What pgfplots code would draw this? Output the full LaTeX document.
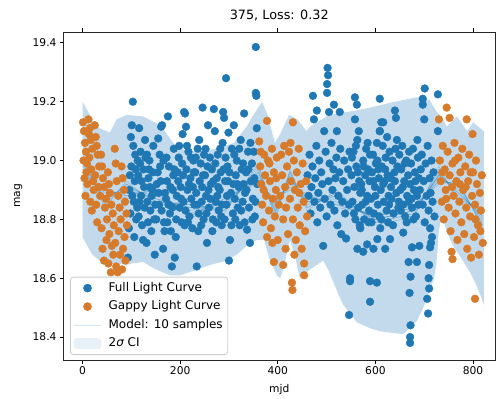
\documentclass[border=0pt]{standalone}
\usepackage{fontspec}
\setmainfont{DejaVu Sans}
\usepackage{pgfplots}
\pgfplotsset{compat=1.18}
\definecolor{tabblue}{RGB}{31,119,180}
\definecolor{taborange}{RGB}{214,123,44}

\begin{document}
\begin{tikzpicture}
\begin{axis}[
  name=ax,
  scale only axis,
  width=431.5pt, height=328pt,
  xmin=-39, xmax=845, ymin=18.322, ymax=19.437,
  xtick={0,200,400,600,800},
  ytick={18.4,18.6,18.8,19.0,19.2,19.4},
  tick align=outside,
  major tick length=3.5pt,
  every tick/.style={black, line width=0.8pt},
  axis line style={black!85, line width=0.8pt},
  tick label style={font=\fontsize{10.7}{12}\selectfont},
  /pgf/number format/assume math mode=true,
  yticklabel style={/pgf/number format/.cd, fixed, fixed zerofill, precision=1},
  title={375, Loss: 0.32},
  title style={at={(axis description cs:0.5,1)}, anchor=base, yshift=6pt, font=\fontsize{12.8}{15}\selectfont},
  xlabel={mjd},
  xlabel style={at={(axis description cs:0.5,0)}, anchor=base, yshift=-32pt, font=\fontsize{10.7}{12}\selectfont},
  ylabel={mag},
  ylabel style={at={(axis description cs:-0.1008,0.5)}, anchor=base, rotate=0, font=\fontsize{10.7}{12}\selectfont},
  legend cell align=left,
  legend style={at={(axis description cs:0.0151,0.0152)}, anchor=south west,
    draw=black!20, line width=0.8pt, rounded corners=3pt, fill=white, fill opacity=0.8, text opacity=1,
    inner xsep=3pt, inner ysep=5pt, row sep=6.5pt, column sep=5pt,
    nodes={inner ysep=0pt, text height=9pt, text depth=3pt},
    font=\fontsize{12}{14}\selectfont},
]

% Full light curve (observations outside the gaps)
\addplot[only marks, mark=*, mark size=3.9pt, color=tabblue, mark options={draw=none, fill=tabblue}, forget plot] coordinates {
(93,18.67) (95,18.77) (98,18.82) (101,19.12) (103,19.20) (105,18.86) (107,18.93) (100,18.98) (108,19.02) (96,18.90) (110,18.80) (104,19.05)
(97,18.95) (102,18.88) (106,18.74) (109,18.97) (99,19.08)
(112,18.84) (114,18.95) (116,19.11) (118,18.99) (120,18.88) (122,18.78) (124,18.73) (126,18.91) (128,19.07) (115,18.81) (125,18.97) (119,19.03)
(113,19.00) (117,18.86) (121,18.93) (127,18.84) (129,19.01)
(131,18.72) (133,18.86) (135,18.94) (137,19.00) (139,18.83) (141,18.76) (143,18.90) (145,19.05) (148,18.68) (147,18.80) (136,18.97) (142,18.88)
(132,19.02) (134,18.79) (138,18.91) (144,18.96) (149,18.85)
(152,18.92) (155,19.075) (157,18.85) (159,18.98) (161,19.115) (163,19.12) (165,18.70) (167,18.79) (169,18.89) (154,18.96) (162,18.83) (158,19.02)
(151,18.80) (156,18.89) (160,18.93) (166,19.00) (168,18.76)
(171,18.87) (173,18.93) (175,19.15) (177,18.98) (179,18.82) (181,18.76) (183,18.64) (185,18.90) (187,19.04) (189,18.67) (176,18.85) (186,18.95)
(172,19.01) (174,18.79) (180,18.91) (184,18.84) (188,18.97)
(191,18.74) (193,18.88) (195,18.96) (197,19.01) (199,18.84) (201,18.91) (203,18.79) (205,19.09) (207,18.86) (208,19.165) (210,19.16) (196,18.93) (204,18.99)
(192,18.80) (198,19.05) (202,18.87) (206,18.95) (209,18.78)
(211,18.83) (212,19.115) (213,18.97) (215,18.90) (217,19.03) (219,18.81) (221,18.94) (223,18.87) (225,18.77) (227,19.00) (229,18.85) (234,18.64) (218,18.92)
(214,19.05) (216,18.79) (222,19.01) (226,18.91) (228,18.96)
(231,18.96) (233,18.89) (236,19.04) (238,18.82) (240,18.93) (242,18.99) (244,18.86) (246,19.18) (248,18.80) (245,18.91) (237,18.76)
(232,19.01) (235,18.85) (239,19.07) (243,18.78) (247,18.95) (249,19.02)
(251,18.95) (253,18.88) (255,18.72) (257,19.12) (259,18.84) (261,19.01) (263,18.92) (265,18.97) (267,18.80) (269,19.175) (271,19.10) (258,18.90)
(252,19.04) (254,18.82) (256,18.98) (262,18.87) (266,18.76) (268,18.93)
(273,18.86) (275,18.94) (277,19.02) (279,18.83) (281,18.90) (283,18.96) (285,18.78) (287,19.06) (288,19.165) (290,19.145) (276,18.88) (284,18.81)
(272,18.99) (274,18.79) (278,18.91) (282,19.04) (286,18.85) (289,18.97)
(292,18.93) (294,19.28) (295,18.85) (297,18.98) (299,19.095) (300,18.66) (302,18.73) (304,18.89) (306,19.04) (308,18.82) (310,19.12) (298,18.93)
(291,18.80) (293,19.01) (296,18.88) (301,18.96) (305,18.78) (309,18.92)
(312,18.87) (314,18.95) (316,19.00) (318,18.84) (320,18.91) (322,18.78) (324,19.07) (326,18.97) (328,18.86) (330,18.92)
(311,19.02) (313,18.80) (317,18.92) (321,19.04) (325,18.83) (329,18.99)
(331,19.16) (333,18.89) (335,18.96) (337,18.765) (339,19.03) (341,18.84) (343,18.72) (345,18.93) (347,18.99) (349,18.87) (351,19.03) (353,18.81)
(355,19.386) (355,19.23) (356,19.22) (357,19.11) (358,18.92)
(332,18.79) (336,18.90) (340,18.97) (344,19.06) (348,18.80) (352,18.94) (354,18.86)
(461,18.95) (463,18.88) (465,19.02) (467,18.82) (469,18.91) (471,18.98) (472,19.22) (474,19.14) (475,18.86) (477,18.94) (479,19.05) (480,19.17)
(481,18.79) (483,18.89) (485,19.00) (487,18.84) (489,18.96) (491,18.92) (493,18.71) (495,19.10) (496,18.87) (498,19.03) (500,18.81)
(501,19.26) (502,19.315) (503,19.29) (501,19.23) (504,18.93) (505,19.165) (506,18.99) (508,18.85) (510,19.06) (512,18.90) (514,18.97)
(515,19.19) (516,18.83) (518,18.94) (520,19.01) (521,19.10) (522,18.78) (524,18.88) (526,18.96) (527,19.165) (528,19.04) (530,18.75)
(532,18.86) (534,18.93) (536,19.00) (538,18.82) (540,18.735) (542,18.90) (544,18.97) (546,18.475) (547,19.03) (548,18.60) (548,18.59) (546,18.85)
(558,19.215) (562,19.19) (609,19.21) (558,19.14) (612,19.13) (640,19.17) (642,19.145) (616,19.13) (701,19.245) (728,19.225)
(697,19.21) (697,19.19) (700,19.14) (728,19.10) (609,19.10)
(569,18.77) (610,18.77) (563,18.70) (583,18.715) (604,18.733) (630,18.733) (657,18.755) (690,18.71) (589,18.59) (603,18.585)
(589,18.52) (575,18.69) (596,18.70) (620,18.70)
(671,18.38) (671,18.40) (672,18.44) (670,18.55) (672,18.605) (668,18.655) (675,18.705) (685,18.655)
(708,18.48) (706,18.53) (710,18.565) (709,18.60) (710,18.645) (712,18.705) (714,18.72)
(551,18.95) (553,18.86) (555,19.03) (557,18.91) (559,18.80) (561,18.98) (563,19.07) (565,18.84) (567,18.93) (569,18.89) (552,19.01) (556,18.82) (560,19.05) (564,18.96) (568,18.78) (566,19.10)
(571,18.92) (573,18.85) (575,19.00) (577,18.80) (579,18.95) (581,19.04) (583,18.88) (585,18.97) (587,18.83) (589,19.02) (572,18.90) (576,18.98) (580,18.86) (584,19.06) (588,18.93) (586,18.79)
(591,18.87) (593,18.96) (595,19.02) (597,18.82) (599,18.91) (601,18.99) (603,19.06) (605,18.85) (607,18.94) (609,19.10) (592,18.79) (596,18.93) (600,18.88) (604,19.00) (608,18.81) (606,18.97)
(611,18.90) (613,18.98) (615,19.05) (617,18.86) (619,18.93) (621,19.01) (623,18.83) (625,18.95) (627,18.88) (629,19.03) (612,18.80) (616,18.92) (620,18.97) (624,19.08) (628,18.85) (626,18.79)
(631,18.94) (633,18.87) (635,19.00) (637,18.82) (639,18.96) (641,19.04) (643,18.89) (645,18.98) (647,18.84) (649,19.02) (632,18.91) (636,18.78) (640,18.93) (644,19.07) (648,18.86)
(651,18.90) (653,18.97) (655,19.05) (657,18.85) (659,18.93) (661,18.81) (663,19.00) (665,18.88) (667,18.95) (669,19.03) (652,18.83) (656,18.91) (660,18.99) (664,18.79) (668,18.86)
(671,18.92) (673,18.99) (675,18.84) (677,19.04) (679,18.90) (681,18.96) (683,18.81) (685,18.88) (687,19.01) (689,18.94) (674,18.87) (678,18.80) (682,18.93) (686,19.07) (688,18.85)
(691,18.90) (693,18.97) (695,19.02) (697,18.85) (699,18.93) (701,18.79) (703,18.99) (705,18.88) (707,19.05) (709,18.83) (711,18.94) (713,18.89) (715,19.00) (717,18.86) (719,18.96) (721,18.81) (712,18.77) (716,18.74)
};

% Gappy light curve (the observations that were kept)
\addplot[only marks, mark=*, mark size=3.9pt, color=taborange, mark options={draw=none, fill=taborange}, forget plot] coordinates {
(1,19.13) (2,19.00) (3,19.10) (4,18.94) (5,19.06) (6,18.88) (7,19.03) (8,18.96) (9,18.99) (10,18.92)
(12,19.14) (13,19.09) (14,19.01) (15,19.11) (16,18.86) (17,19.07) (18,18.97) (19,18.83) (20,19.04) (22,18.93) (23,18.90)
(25,19.12) (26,18.95) (27,19.08) (28,18.85) (29,19.05) (30,18.79) (31,19.02) (33,18.91) (34,18.98) (36,18.88)
(38,19.02) (39,18.77) (40,18.98) (41,18.70) (42,18.94) (44,18.66) (45,18.91) (46,18.84) (48,18.87) (49,18.73) (50,18.80)
(52,18.96) (53,18.65) (54,18.92) (55,18.75) (56,18.89) (58,18.62) (59,18.85) (60,18.71) (62,18.82) (63,18.68) (64,18.78)
(66,19.04) (67,18.72) (68,18.99) (69,18.64) (70,18.93) (72,18.62) (73,18.88) (74,18.76) (76,18.84) (77,18.68) (78,18.80)
(80,18.98) (81,18.63) (82,18.94) (83,18.70) (85,18.90) (86,18.74) (87,18.86) (88,18.66) (90,18.82) (91,18.78)
(362,19.065) (364,18.98) (366,18.92) (368,18.85) (370,18.79) (372,19.02) (374,18.95) (376,18.88) (378,19.135) (378,18.74)
(380,19.00) (382,18.83) (384,18.93) (386,18.77) (388,19.04) (390,18.87) (392,18.655) (392,18.96) (394,18.81) (396,18.90)
(398,19.01) (400,18.73) (402,18.85) (365,19.03) (371,18.90) (383,18.99) (389,18.72) (397,18.94)
(405,18.88) (407,19.02) (409,18.95) (411,18.645) (411,18.80) (413,19.05) (415,18.91) (417,18.84) (419,18.98) (421,18.75)
(423,19.03) (425,18.87) (427,18.93) (429,18.585) (430,18.56) (431,19.13) (431,18.80) (433,19.00) (435,18.90) (437,18.73)
(439,18.96) (441,18.84) (443,19.04) (445,18.78) (447,18.92) (449,18.70) (451,18.99) (453,18.86) (454,18.65) (454,18.61)
(456,18.76) (458,18.93) (460,18.81) (416,18.70) (426,19.06) (444,18.89) (434,18.68)
(730,19.14) (732,19.00) (734,18.93) (736,18.86) (738,19.05) (740,18.80) (742,18.97) (744,18.90) (746,19.18) (748,19.03)
(750,18.84) (752,19.145) (752,18.95) (754,18.76) (756,18.69) (758,18.665) (758,18.99) (760,18.88) (762,19.06) (764,18.82)
(766,18.93) (768,18.73) (770,19.01) (772,18.86) (774,18.96) (776,18.79) (778,19.04) (780,18.90) (782,18.75) (784,18.98)
(786,18.84) (787,19.14) (788,18.70) (790,18.93) (792,19.02) (794,18.81) (796,18.67) (798,18.88) (799,19.09) (800,18.96)
(802,18.74) (804,18.53) (804,18.85) (806,19.00) (808,18.92) (810,18.78) (812,18.68) (814,18.89) (816,18.83) (818,18.95)
(820,18.72) (737,18.96) (745,18.87) (757,18.91) (763,19.00) (773,18.92) (785,18.91) (795,18.96) (805,18.80) (815,18.76)
};

% Model: 10 posterior samples
\pgfplotsset{sample line/.style={tabblue, opacity=0.25, line width=0.8pt, forget plot}}
\addplot[sample line] coordinates {(0,18.97) (45,18.88) (90,18.90) (150,18.88) (220,18.83) (290,18.85) (360,18.95) (395,18.84) (425,18.94) (460,18.86) (520,18.87) (600,18.80) (680,18.83) (730,18.95) (770,18.90) (820,18.80)};
\addplot[sample line] coordinates {(0,19.02) (45,18.84) (90,18.93) (150,18.85) (220,18.86) (290,18.82) (360,18.99) (395,18.80) (425,18.97) (460,18.83) (520,18.90) (600,18.78) (680,18.81) (730,18.98) (770,18.86) (820,18.84)};
\addplot[sample line] coordinates {(0,18.93) (45,18.91) (90,18.87) (150,18.91) (220,18.80) (290,18.88) (360,18.92) (395,18.87) (425,18.90) (460,18.89) (520,18.84) (600,18.82) (680,18.85) (730,18.92) (770,18.93) (820,18.77)};
\addplot[sample line] coordinates {(0,19.00) (45,18.86) (90,18.92) (150,18.86) (220,18.85) (290,18.83) (360,18.97) (395,18.82) (425,18.96) (460,18.84) (520,18.89) (600,18.79) (680,18.82) (730,18.96) (770,18.88) (820,18.82)};
\addplot[sample line] coordinates {(0,18.94) (45,18.90) (90,18.88) (150,18.90) (220,18.81) (290,18.87) (360,18.93) (395,18.86) (425,18.91) (460,18.88) (520,18.85) (600,18.81) (680,18.84) (730,18.93) (770,18.92) (820,18.78)};
\addplot[sample line] coordinates {(0,18.99) (45,18.87) (90,18.91) (150,18.87) (220,18.84) (290,18.84) (360,18.96) (395,18.83) (425,18.95) (460,18.85) (520,18.88) (600,18.80) (680,18.83) (730,18.95) (770,18.89) (820,18.81)};
\addplot[sample line] coordinates {(0,18.96) (45,18.89) (90,18.89) (150,18.89) (220,18.82) (290,18.86) (360,18.94) (395,18.85) (425,18.93) (460,18.87) (520,18.86) (600,18.81) (680,18.84) (730,18.94) (770,18.91) (820,18.79)};
\addplot[sample line] coordinates {(0,19.01) (45,18.85) (90,18.92) (150,18.86) (220,18.85) (290,18.83) (360,18.98) (395,18.81) (425,18.96) (460,18.84) (520,18.89) (600,18.79) (680,18.82) (730,18.97) (770,18.87) (820,18.83)};
\addplot[sample line] coordinates {(0,18.95) (45,18.90) (90,18.88) (150,18.90) (220,18.81) (290,18.87) (360,18.93) (395,18.86) (425,18.92) (460,18.88) (520,18.85) (600,18.81) (680,18.85) (730,18.93) (770,18.92) (820,18.78)};
\addplot[sample line] coordinates {(0,18.98) (45,18.87) (90,18.90) (150,18.87) (220,18.84) (290,18.85) (360,18.96) (395,18.83) (425,18.94) (460,18.86) (520,18.88) (600,18.80) (680,18.83) (730,18.95) (770,18.89) (820,18.81)};

% 2 sigma confidence band: upper edge left to right, lower edge right to left
\addplot[draw=none, fill=tabblue, fill opacity=0.27, forget plot] coordinates {
(0,19.20) (10,19.17) (20,19.14) (35,19.11) (56,19.095) (70,19.14) (90,19.155) (124,19.15) (160,19.12) (177,19.08)
(193,19.045) (220,19.03) (253,19.035) (275,19.04) (310,19.06) (336,19.115) (352,19.16) (368,19.20) (380,19.15) (394,19.06)
(405,19.09) (423,19.155) (440,19.14) (459,19.10) (466,19.115) (480,19.13) (500,19.15) (521,19.16) (560,19.17) (589,19.18)
(640,19.20) (685,19.215) (711,19.205) (726,19.165) (739,19.14) (746,19.115) (767,19.15) (788,19.10) (800,19.13) (822,19.10)
(822,18.51) (818,18.53) (806,18.58) (794,18.62) (775,18.67) (759,18.71) (746,18.76) (736,18.82) (730,18.76) (725,18.65)
(720,18.60) (712,18.56) (698,18.50) (685,18.455) (657,18.41) (630,18.415) (609,18.42) (589,18.43) (562,18.45) (548,18.48)
(534,18.51) (523,18.55) (513,18.59) (503,18.63) (493,18.66) (480,18.645) (466,18.63) (452,18.61) (445,18.60) (436,18.67)
(425,18.73) (418,18.68) (411,18.63) (405,18.60) (398,18.61) (390,18.64) (384,18.66) (372,18.73) (357,18.73) (336,18.71)
(316,18.68) (295,18.66) (261,18.645) (227,18.625) (200,18.61) (179,18.61) (150,18.63) (124,18.655) (100,18.65) (90,18.645)
(70,18.65) (42,18.65) (20,18.68) (0,18.74)
} -- cycle;

% legend entries
\addlegendimage{legend image code/.code={\fill[tabblue, fill opacity=1] (13.5pt,0pt) circle (3.9pt);}}
\addlegendentry{Full Light Curve}
\addlegendimage{legend image code/.code={\fill[taborange, fill opacity=1] (13.5pt,0pt) circle (3.9pt);}}
\addlegendentry{Gappy Light Curve}
\addlegendimage{legend image code/.code={\draw[tabblue!20, line width=1.2pt, draw opacity=1] (0pt,0pt) -- (27pt,0pt);}}
\addlegendentry{Model: 10 samples}
\addlegendimage{legend image code/.code={\fill[tabblue!10, fill opacity=1] (0pt,-5pt) rectangle (27pt,5pt);}}
\addlegendentry{2{\itshape σ} CI}
\end{axis}
\pgfresetboundingbox
\path[use as bounding box] ([xshift=-63.5pt,yshift=-39pt]ax.south west) rectangle ([xshift=1pt,yshift=32pt]ax.north east);
\end{tikzpicture}
\end{document}
